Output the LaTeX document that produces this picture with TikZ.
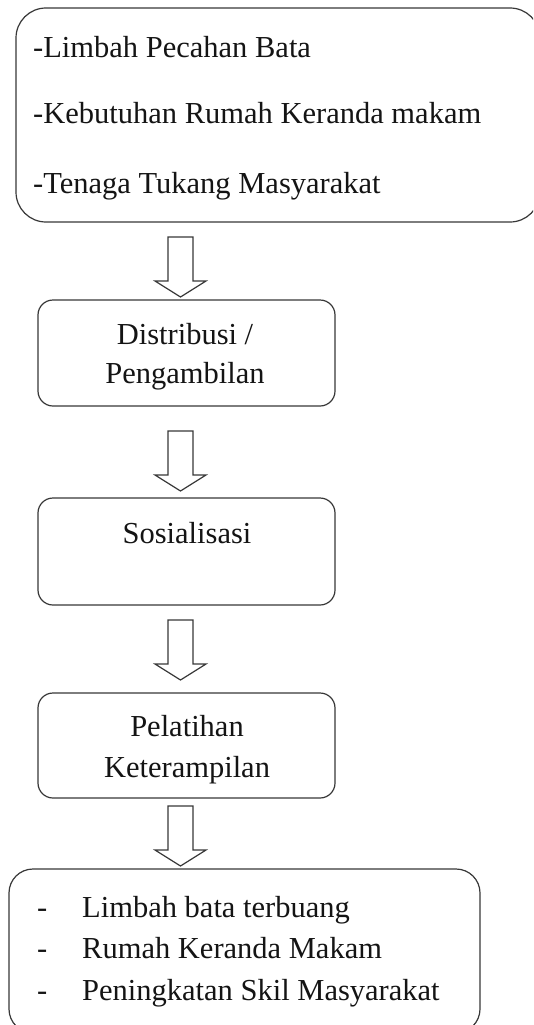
\documentclass[tikz,border=0pt]{standalone}
\usepackage{fontspec}
\setmainfont{Liberation Serif}
\begin{document}
\begin{tikzpicture}[x=1pt,y=-1pt,
  line/.style={draw=black!78, line width=1.2pt},
  box/.style={line, rectangle, inner sep=0pt, rounded corners=15pt},
  txt/.style={inner sep=0pt, font=\fontsize{30.5}{39}\selectfont, text=black!92},
  downarrow/.pic={\draw[line, line join=miter] (-12.5,0) -- (-12.5,44) -- (-25.5,44) -- (0,60) -- (25.5,44) -- (12.5,44) -- (12.5,0) -- cycle;}
]
\useasboundingbox (0,0) rectangle (533,1025);
\clip (0,0) rectangle (533,1025);
\fill[white] (0,0) rectangle (533,1025);

% boxes
\node[box, rounded corners=30pt, minimum width=524pt, minimum height=214pt] (b1) at (278,115) {};
\node[box, minimum width=297pt, minimum height=106pt] (b2) at (186.5,353) {};
\node[box, minimum width=297pt, minimum height=107pt] (b3) at (186.5,551.5) {};
\node[box, minimum width=297pt, minimum height=105pt] (b4) at (186.5,745.5) {};
\node[box, rounded corners=24pt, minimum width=471pt, minimum height=164pt] (b5) at (244.5,951) {};

% texts
\node[txt, anchor=base west] (t11) at (33,58) {-Limbah Pecahan Bata};
\node[txt, anchor=base west] (t12) at (33,123) {-Kebutuhan Rumah Keranda makam};
\node[txt, anchor=base west] (t13) at (33,193) {-Tenaga Tukang Masyarakat};

\node[txt, anchor=base] (t21) at (185,344) {Distribusi /};
\node[txt, anchor=base] (t22) at (185,383) {Pengambilan};

\node[txt, anchor=base] (t31) at (187,543) {Sosialisasi};

\node[txt, anchor=base] (t41) at (187,736) {Pelatihan};
\node[txt, anchor=base] (t42) at (187,777) {Keterampilan};

\node[txt, anchor=base west] (d1) at (37,917) {-};
\node[txt, anchor=base west] (d2) at (37,958) {-};
\node[txt, anchor=base west] (d3) at (37,1000) {-};
\node[txt, anchor=base west] (t51) at (82,917) {Limbah bata terbuang};
\node[txt, anchor=base west] (t52) at (82,958) {Rumah Keranda Makam};
\node[txt, anchor=base west] (t53) at (82,1000) {Peningkatan Skil Masyarakat};

% block arrows
\pic at (180.5,237) {downarrow};
\pic at (180.5,431) {downarrow};
\pic at (180.5,620) {downarrow};
\pic at (180.5,806) {downarrow};
\end{tikzpicture}
\end{document}
